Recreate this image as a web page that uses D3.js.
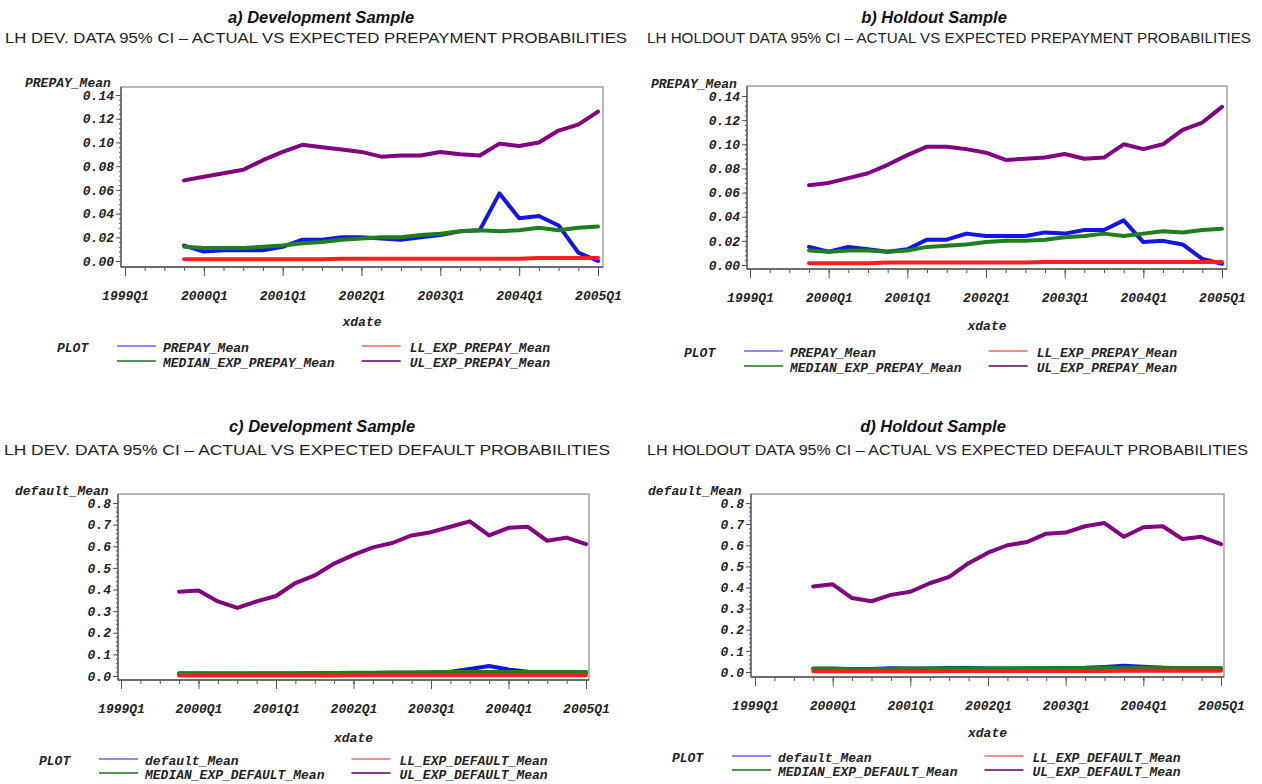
<!DOCTYPE html>
<html>
<head>
<meta charset="utf-8">
<script src="https://cdn.jsdelivr.net/npm/d3@7"></script>
<style>
  html, body { margin: 0; padding: 0; background: #fff; }
  svg { display: block; }
  .mono { font-family: "Liberation Mono", "Courier New", monospace; font-weight: bold; font-style: italic; font-size: 13px; fill: #222; }
  .title { font-family: "Liberation Sans", Arial, sans-serif; font-weight: bold; font-style: italic; font-size: 16.5px; fill: #111; }
  .sub { font-family: "Liberation Sans", Arial, sans-serif; font-size: 15px; fill: #222; }
</style>
</head>
<body>
<svg id="chart" width="1262" height="784"></svg>
<script>
// Quarterly observation dates shared by all four panels
const quarters = ["1999Q4",
  "2000Q1","2000Q2","2000Q3","2000Q4",
  "2001Q1","2001Q2","2001Q3","2001Q4",
  "2002Q1","2002Q2","2002Q3","2002Q4",
  "2003Q1","2003Q2","2003Q3","2003Q4",
  "2004Q1","2004Q2","2004Q3","2004Q4",
  "2005Q1"];
const xTickLabels = ["1999Q1","2000Q1","2001Q1","2002Q1","2003Q1","2004Q1","2005Q1"];
const prepayTicks = [0, 0.02, 0.04, 0.06, 0.08, 0.10, 0.12, 0.14];
const defaultTicks = [0, 0.1, 0.2, 0.3, 0.4, 0.5, 0.6, 0.7, 0.8];

// a) development sample, prepayment
const devPrepayActual = [0.013, 0.008, 0.009, 0.009, 0.009, 0.012, 0.018, 0.018, 0.020, 0.020, 0.019, 0.018, 0.020, 0.022, 0.025, 0.026, 0.057, 0.036, 0.038, 0.030, 0.007, 0.000];
const devPrepayMedian = [0.012, 0.011, 0.011, 0.011, 0.012, 0.013, 0.015, 0.016, 0.018, 0.019, 0.020, 0.020, 0.022, 0.023, 0.025, 0.026, 0.025, 0.026, 0.028, 0.026, 0.028, 0.029];
const devPrepayLower  = [0.0015, 0.0015, 0.0015, 0.0015, 0.0015, 0.0015, 0.0015, 0.0015, 0.002, 0.002, 0.002, 0.002, 0.002, 0.002, 0.002, 0.002, 0.002, 0.002, 0.0025, 0.0025, 0.0025, 0.0025];
const devPrepayUpper  = [0.068, 0.071, 0.074, 0.077, 0.085, 0.092, 0.098, 0.096, 0.094, 0.092, 0.088, 0.089, 0.089, 0.092, 0.090, 0.089, 0.099, 0.097, 0.100, 0.110, 0.115, 0.126];

// b) holdout sample, prepayment
const holdPrepayActual = [0.015, 0.011, 0.015, 0.013, 0.011, 0.013, 0.021, 0.021, 0.026, 0.024, 0.024, 0.024, 0.027, 0.026, 0.029, 0.029, 0.037, 0.019, 0.020, 0.017, 0.005, 0.001];
const holdPrepayMedian = [0.012, 0.011, 0.012, 0.012, 0.011, 0.012, 0.015, 0.016, 0.017, 0.019, 0.020, 0.020, 0.021, 0.023, 0.024, 0.026, 0.024, 0.026, 0.028, 0.027, 0.029, 0.030];
const holdPrepayLower  = [0.0015, 0.0015, 0.0015, 0.0015, 0.002, 0.002, 0.002, 0.002, 0.002, 0.002, 0.002, 0.002, 0.0025, 0.0025, 0.0025, 0.0025, 0.0025, 0.0025, 0.0025, 0.0025, 0.0025, 0.0025];
const holdPrepayUpper  = [0.066, 0.068, 0.072, 0.076, 0.083, 0.091, 0.098, 0.098, 0.096, 0.093, 0.087, 0.088, 0.089, 0.092, 0.088, 0.089, 0.100, 0.096, 0.100, 0.112, 0.118, 0.131];

// c) development sample, default
const devDefaultActual = [0.012, 0.012, 0.011, 0.011, 0.012, 0.012, 0.012, 0.013, 0.013, 0.013, 0.014, 0.015, 0.015, 0.016, 0.020, 0.032, 0.046, 0.030, 0.020, 0.016, 0.016, 0.016];
const devDefaultMedian = [0.013, 0.013, 0.012, 0.012, 0.013, 0.013, 0.013, 0.014, 0.014, 0.015, 0.015, 0.016, 0.016, 0.017, 0.018, 0.018, 0.018, 0.018, 0.018, 0.018, 0.018, 0.018];
const devDefaultLower  = [0.002, 0.002, 0.002, 0.002, 0.002, 0.002, 0.002, 0.002, 0.002, 0.003, 0.003, 0.003, 0.003, 0.003, 0.003, 0.003, 0.003, 0.003, 0.004, 0.004, 0.004, 0.004];
const devDefaultUpper  = [0.390, 0.395, 0.345, 0.315, 0.345, 0.370, 0.430, 0.465, 0.520, 0.560, 0.595, 0.615, 0.650, 0.665, 0.690, 0.715, 0.650, 0.685, 0.690, 0.625, 0.640, 0.610];

// d) holdout sample, default
const holdDefaultActual = [0.015, 0.015, 0.014, 0.014, 0.018, 0.016, 0.016, 0.019, 0.019, 0.016, 0.017, 0.017, 0.018, 0.019, 0.020, 0.024, 0.030, 0.025, 0.020, 0.018, 0.017, 0.016];
const holdDefaultMedian = [0.016, 0.016, 0.013, 0.013, 0.015, 0.015, 0.016, 0.016, 0.016, 0.017, 0.017, 0.018, 0.018, 0.019, 0.019, 0.020, 0.020, 0.020, 0.020, 0.019, 0.019, 0.019];
const holdDefaultLower  = [0.004, 0.004, 0.004, 0.004, 0.004, 0.004, 0.004, 0.005, 0.005, 0.005, 0.005, 0.005, 0.005, 0.005, 0.005, 0.005, 0.006, 0.006, 0.006, 0.006, 0.006, 0.006];
const holdDefaultUpper  = [0.405, 0.415, 0.350, 0.335, 0.365, 0.380, 0.420, 0.450, 0.515, 0.565, 0.600, 0.615, 0.655, 0.660, 0.690, 0.705, 0.640, 0.685, 0.690, 0.630, 0.640, 0.605];

const prepayNames  = ["PREPAY_Mean", "MEDIAN_EXP_PREPAY_Mean", "LL_EXP_PREPAY_Mean", "UL_EXP_PREPAY_Mean"];
const defaultNames = ["default_Mean", "MEDIAN_EXP_DEFAULT_Mean", "LL_EXP_DEFAULT_Mean", "UL_EXP_DEFAULT_Mean"];

// Series styling, in drawing order (actual, median, lower, upper)
const lineColors   = ["#1414e6", "#1e7f1e", "#ff1e1e", "#800080"];
const legendColors = ["#8c8cf0", "#4f9a4f", "#f08c8c", "#8a3a8a"];

// Quarter label -> position on the axis, counted in quarters from 1999Q1
function quarterIndex(q) {
  const yr = +q.slice(0, 4), qn = +q.slice(5);
  return (yr - 1999) * 4 + (qn - 1);
}

const panels = [
  { title: "a) Development Sample", titleX: 321, titleY: 17,
    sub: "LH DEV. DATA 95% CI \u2013 ACTUAL VS EXPECTED  PREPAYMENT PROBABILITIES", subX0: 5, subX1: 627, subY: 38,
    yName: "PREPAY_Mean", yNameX: 25, yNameY: 82,
    frame: [121, 87, 603, 267], xr: [125, 598], yr: [261, 95], yMax: 0.14, ticks: prepayTicks, fmt: ".2f", minor: 0.004,
    series: [devPrepayActual, devPrepayMedian, devPrepayLower, devPrepayUpper], names: prepayNames,
    xdateY: 321, legX: 163, legY: 347, rowGap: 15 },
  { title: "b) Holdout Sample", titleX: 934, titleY: 17,
    sub: "LH HOLDOUT DATA 95% CI \u2013 ACTUAL VS EXPECTED PREPAYMENT PROBABILITIES", subX0: 647, subX1: 1251, subY: 38,
    yName: "PREPAY_Mean", yNameX: 651, yNameY: 83,
    frame: [747, 86, 1227, 269], xr: [750, 1222], yr: [265, 96], yMax: 0.14, ticks: prepayTicks, fmt: ".2f", minor: 0.004,
    series: [holdPrepayActual, holdPrepayMedian, holdPrepayLower, holdPrepayUpper], names: prepayNames,
    xdateY: 325, legX: 790, legY: 352, rowGap: 15 },
  { title: "c) Development Sample", titleX: 322, titleY: 426,
    sub: "LH DEV. DATA 95% CI \u2013 ACTUAL VS EXPECTED DEFAULT PROBABILITIES", subX0: 4, subX1: 610, subY: 450,
    yName: "default_Mean", yNameX: 15, yNameY: 490,
    frame: [118, 494, 589, 680], xr: [121, 586], yr: [676, 503], yMax: 0.8, ticks: defaultTicks, fmt: ".1f", minor: 0.02,
    series: [devDefaultActual, devDefaultMedian, devDefaultLower, devDefaultUpper], names: defaultNames,
    xdateY: 737, legX: 145, legY: 760, rowGap: 14 },
  { title: "d) Holdout Sample", titleX: 933, titleY: 426,
    sub: "LH HOLDOUT DATA 95% CI \u2013 ACTUAL VS EXPECTED  DEFAULT PROBABILITIES", subX0: 647, subX1: 1248, subY: 450,
    yName: "default_Mean", yNameX: 648, yNameY: 490,
    frame: [751, 494, 1224, 677], xr: [755, 1221], yr: [672, 503], yMax: 0.8, ticks: defaultTicks, fmt: ".1f", minor: 0.02,
    series: [holdDefaultActual, holdDefaultMedian, holdDefaultLower, holdDefaultUpper], names: defaultNames,
    xdateY: 732, legX: 778, legY: 757, rowGap: 14 }
];

const svg = d3.select("#chart");
svg.append("rect").attr("width", 1262).attr("height", 784).attr("fill", "#fff");

panels.forEach(p => {
  const g = svg.append("g");
  const [fx0, fy0, fx1, fy1] = p.frame;

  const x = d3.scaleLinear().domain([0, 24]).range(p.xr);
  const y = d3.scaleLinear().domain([0, p.yMax]).range(p.yr);

  // headings
  g.append("text").attr("class", "title").attr("x", p.titleX).attr("y", p.titleY)
    .attr("text-anchor", "middle").attr("dy", "0.35em").text(p.title);
  g.append("text").attr("class", "sub").attr("x", p.subX0).attr("y", p.subY).attr("dy", "0.35em")
    .attr("textLength", p.subX1 - p.subX0).attr("lengthAdjust", "spacingAndGlyphs").text(p.sub);

  // vertical axis title
  g.append("text").attr("class", "mono").attr("x", p.yNameX).attr("y", p.yNameY).attr("dy", "0.35em").text(p.yName);

  // plot frame
  g.append("rect").attr("x", fx0).attr("y", fy0).attr("width", fx1 - fx0).attr("height", fy1 - fy0)
    .attr("fill", "none").attr("stroke", "#8a8a8a").attr("stroke-width", 1.2);
  g.append("line").attr("x1", fx0).attr("x2", fx0).attr("y1", fy0).attr("y2", fy1).attr("stroke", "#555").attr("stroke-width", 1.3);
  g.append("line").attr("x1", fx0).attr("x2", fx1).attr("y1", fy1).attr("y2", fy1).attr("stroke", "#555").attr("stroke-width", 1.3);

  // y axis: minor ticks, then labelled major ticks
  const minorVals = d3.range(0, p.yMax + 1e-9, p.minor);
  const yMinor = g.append("g").attr("transform", `translate(${fx0},0)`)
    .call(d3.axisLeft(y).tickValues(minorVals).tickSize(2).tickFormat(""));
  const yMajor = g.append("g").attr("transform", `translate(${fx0},0)`)
    .call(d3.axisLeft(y).tickValues(p.ticks).tickSize(5).tickPadding(2).tickFormat(d3.format(p.fmt)));
  [yMinor, yMajor].forEach(a => { a.select(".domain").remove(); a.selectAll("line").attr("stroke", "#555"); });
  yMajor.selectAll("text").attr("class", "mono").attr("font-size", null).attr("font-family", null).attr("fill", null);

  // x axis: quarterly minor ticks, yearly labelled ticks
  const xMinor = g.append("g").attr("transform", `translate(0,${fy1})`)
    .call(d3.axisBottom(x).tickValues(d3.range(0, 25)).tickSize(4).tickFormat(""));
  const xMajor = g.append("g").attr("transform", `translate(0,${fy1})`)
    .call(d3.axisBottom(x).tickValues(xTickLabels.map(quarterIndex)).tickSize(9)
      .tickFormat((d, i) => xTickLabels[i]));
  [xMinor, xMajor].forEach(a => { a.select(".domain").remove(); a.selectAll("line").attr("stroke", "#555"); });
  xMajor.selectAll("text").attr("class", "mono").attr("font-size", null).attr("font-family", null).attr("fill", null)
    .attr("y", 28).attr("dy", "0.35em");

  g.append("text").attr("class", "mono").attr("x", (fx0 + fx1) / 2).attr("y", p.xdateY)
    .attr("dy", "0.35em").attr("text-anchor", "middle").text("xdate");

  // data lines
  const line = d3.line().x((d, i) => x(quarterIndex(quarters[i]))).y(d => y(d));
  p.series.forEach((s, k) => {
    g.append("path").datum(s).attr("d", line).attr("fill", "none")
      .attr("stroke", lineColors[k]).attr("stroke-width", 4)
      .attr("stroke-linejoin", "round").attr("stroke-linecap", "round");
  });

  // legend: two columns, two rows
  const leg = g.append("g");
  const rowGap = p.rowGap;
  leg.append("text").attr("class", "mono").attr("x", p.legX - 106).attr("y", p.legY).attr("dy", "0.35em").text("PLOT");
  const leftTexts = [p.names[0], p.names[1]].map((n, r) =>
    leg.append("text").attr("class", "mono").attr("x", p.legX).attr("y", p.legY + r * rowGap).attr("dy", "0.35em").text(n));
  const leftW = d3.max(leftTexts, t => t.node().getComputedTextLength());
  const rightLine = p.legX + leftW + 27;
  const entries = [
    { col: 0, row: 0, k: 0 }, { col: 0, row: 1, k: 1 },
    { col: 1, row: 0, k: 2 }, { col: 1, row: 1, k: 3 }
  ];
  entries.forEach(e => {
    const lx0 = e.col === 0 ? p.legX - 46 : rightLine;
    const ly = p.legY + e.row * rowGap - 1;
    leg.append("line").attr("x1", lx0).attr("x2", lx0 + 39).attr("y1", ly).attr("y2", ly)
      .attr("stroke", legendColors[e.k]).attr("stroke-width", 1.8);
    if (e.col === 1) {
      leg.append("text").attr("class", "mono").attr("x", rightLine + 48).attr("y", p.legY + e.row * rowGap)
        .attr("dy", "0.35em").text(p.names[e.k]);
    }
  });
});
</script>
</body>
</html>
